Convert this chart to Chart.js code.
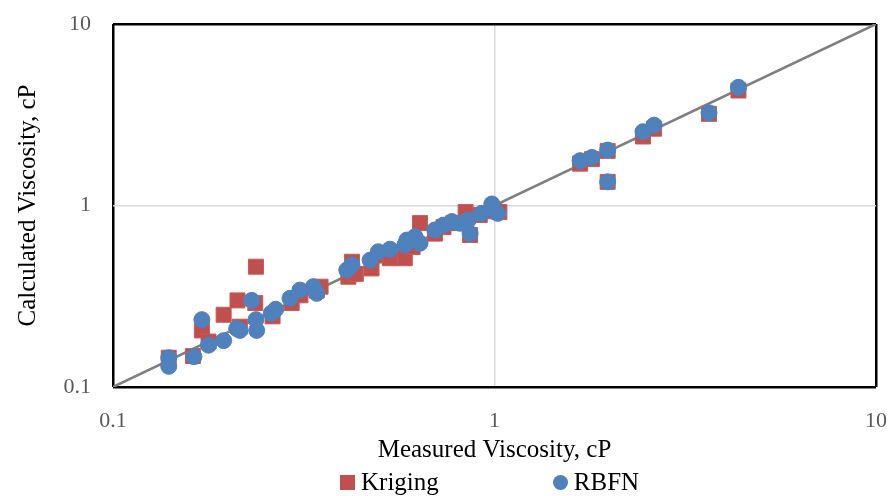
<!DOCTYPE html>
<html>
<head>
<meta charset="utf-8">
<script src="https://cdn.jsdelivr.net/npm/chart.js@4/dist/chart.umd.min.js"></script>
<style>
    body { margin: 0; background: #fff; }
    #wrap { position: relative; width: 893px; height: 496px; }
    #legend {
        position: absolute; left: 340px; top: 468px;
        display: flex; gap: 114px;
        font-family: 'Liberation Serif', serif; font-size: 25px; color: #000;
    }
    .item { display: flex; align-items: center; }
    .mark { width: 15px; height: 15px; margin-right: 6px; }
</style>
</head>
<body>
<div id="wrap">
    <canvas id="myChart" width="893" height="496"></canvas>
    <div id="legend"></div>
</div>
<script>
const tickValues = [0.1, 1, 10];

const krigingMeasured = [
    0.14, 0.162, 0.171, 0.178, 0.195, 0.212, 0.215, 0.236, 0.237, 0.262,
    0.294, 0.31, 0.342, 0.35, 0.414, 0.423, 0.433, 0.476, 0.50, 0.532,
    0.582, 0.61, 0.638, 0.698, 0.735, 0.78, 0.84, 0.863, 0.915, 1.0,
    1.03, 1.676, 1.80, 1.98, 1.98, 2.45, 2.62, 3.65, 4.36
];
const krigingCalculated = [
    0.145, 0.148, 0.205, 0.178, 0.25, 0.30, 0.215, 0.29, 0.46, 0.245,
    0.29, 0.32, 0.34, 0.357, 0.405, 0.49, 0.42, 0.45, 0.53, 0.512,
    0.512, 0.59, 0.80, 0.70, 0.76, 0.80, 0.92, 0.688, 0.886, 0.93,
    0.92, 1.70, 1.80, 2.0, 1.35, 2.4, 2.65, 3.2, 4.3
];

const rbfnMeasured = [
    0.14, 0.14, 0.163, 0.171, 0.178, 0.195, 0.211, 0.215, 0.231, 0.237,
    0.238, 0.26, 0.267, 0.291, 0.309, 0.335, 0.342, 0.41, 0.423, 0.472,
    0.496, 0.532, 0.582, 0.589, 0.619, 0.638, 0.698, 0.735, 0.773, 0.813,
    0.854, 0.863, 0.925, 0.984, 1.02, 1.676, 1.80, 1.98, 1.98, 2.45,
    2.62, 3.65, 4.36
];
const rbfnCalculated = [
    0.145, 0.13, 0.147, 0.235, 0.17, 0.18, 0.21, 0.205, 0.30, 0.235,
    0.205, 0.255, 0.268, 0.308, 0.342, 0.357, 0.328, 0.441, 0.47, 0.50,
    0.556, 0.574, 0.606, 0.645, 0.673, 0.62, 0.733, 0.78, 0.815, 0.798,
    0.832, 0.70, 0.905, 1.02, 0.905, 1.766, 1.84, 2.02, 1.35, 2.55,
    2.77, 3.24, 4.48
];

const parityLine = [0.1, 10];

function toPoints(xs, ys) {
    return xs.map((x, i) => ({ x: x, y: ys[i] }));
}

const fontFamily = "'Liberation Serif', serif";

const data = {
    datasets: [{
        label: 'Kriging',
        data: toPoints(krigingMeasured, krigingCalculated),
        pointStyle: 'rect',
        pointRadius: 10.6,
        backgroundColor: '#C0504D',
        borderColor: '#C65B58',
        borderWidth: 1,
        order: 2
    }, {
        label: 'RBFN',
        data: toPoints(rbfnMeasured, rbfnCalculated),
        pointStyle: 'circle',
        pointRadius: 8,
        backgroundColor: '#4F81BD',
        borderColor: '#4F81BD',
        borderWidth: 1,
        order: 1
    }, {
        label: 'y = x',
        data: toPoints(parityLine, parityLine),
        showLine: true,
        borderColor: '#7F7F7F',
        borderWidth: 2.5,
        pointRadius: 0,
        order: 3
    }]
};

function logAxis(titleText, isX) {
    return {
        type: 'logarithmic',
        min: 0.1,
        max: 10,
        afterBuildTicks: function(scale) {
            scale.ticks = tickValues.map(v => ({ value: v }));
        },
        afterFit: function(scale) {
            if (isX) scale.height = 79;
            else scale.width = 113;
            // sin relleno extra por las etiquetas de los extremos
            scale.paddingTop = 0;
            scale.paddingBottom = 0;
            scale.paddingLeft = 0;
            scale.paddingRight = 0;
        },
        border: { display: false },
        grid: {
            drawTicks: false,
            color: ctx => ctx.tick && ctx.tick.value === 1 ? '#D9D9D9' : '#000000',
            lineWidth: ctx => ctx.tick && ctx.tick.value === 1 ? 1.5 : 2.5
        },
        ticks: {
            padding: isX ? 21 : 22,
            color: '#595959',
            font: { family: fontFamily, size: 22 },
            autoSkip: false,
            maxRotation: 0,
            callback: v => String(v)
        },
        title: {
            display: true,
            text: titleText,
            color: '#000000',
            font: { family: fontFamily, size: 25 },
            padding: isX ? { top: 0, bottom: 1 } : { top: 13, bottom: 0 }
        }
    };
}

const config = {
    type: 'scatter',
    data: data,
    options: {
        responsive: false,
        animation: false,
        layout: {
            autoPadding: false,
            padding: { top: 24, right: 17, bottom: 30, left: 0 }
        },
        scales: {
            x: logAxis('Measured Viscosity, cP', true),
            y: logAxis('Calculated Viscosity, cP', false)
        },
        plugins: {
            legend: { display: false },
            tooltip: { enabled: false }
        }
    }
};

const ctx = document.getElementById('myChart').getContext('2d');
const myChart = new Chart(ctx, config);

// Leyenda en HTML (los elementos van separados como en la figura)
const legendBox = document.getElementById('legend');
myChart.data.datasets.slice(0, 2).forEach(ds => {
    const item = document.createElement('div');
    item.className = 'item';
    const mark = document.createElement('span');
    mark.className = 'mark';
    mark.style.background = ds.backgroundColor;
    if (ds.pointStyle === 'circle') mark.style.borderRadius = '50%';
    const text = document.createElement('span');
    text.textContent = ds.label;
    item.appendChild(mark);
    item.appendChild(text);
    legendBox.appendChild(item);
});
</script>
</body>
</html>
